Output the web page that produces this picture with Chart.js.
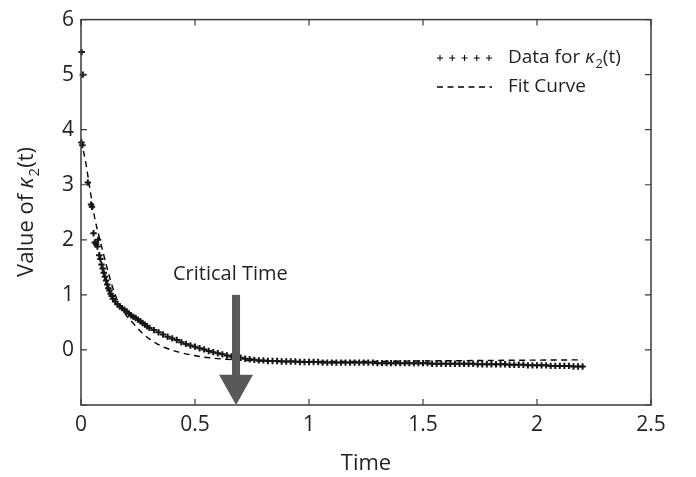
<!DOCTYPE html>
<html>
<head>
<meta charset="utf-8">
<script src="https://cdn.jsdelivr.net/npm/chart.js@4/dist/chart.umd.min.js"></script>
<style>
  html, body { margin:0; padding:0; background:#fff; }
  #wrap { width:696px; height:477px; }
</style>
</head>
<body>
<div id="wrap"><canvas id="c" width="696" height="477"></canvas></div>
<script>
/* ── dados ─────────────────────────────────────────────────── */
const tData = [
  0.003, 0.008, 0.002, 0.006, 0.030, 0.044, 0.048, 0.055, 0.060, 0.066,
  0.072, 0.075, 0.080, 0.085, 0.090, 0.095, 0.100, 0.105, 0.110, 0.115,
  0.120, 0.125, 0.130, 0.135, 0.140, 0.150, 0.160, 0.170, 0.180, 0.190,
  0.200, 0.210, 0.220, 0.230, 0.240, 0.250, 0.260, 0.270, 0.280, 0.290,
  0.300, 0.320, 0.340, 0.360, 0.380, 0.400, 0.420, 0.440, 0.460, 0.480,
  0.500, 0.520, 0.540, 0.560, 0.580, 0.600, 0.620, 0.640, 0.660, 0.680,
  0.700, 0.720, 0.740, 0.760, 0.780, 0.800, 0.820, 0.840, 0.860, 0.880,
  0.900, 0.920, 0.940, 0.960, 0.980, 1.000, 1.020, 1.040, 1.060, 1.080,
  1.100, 1.120, 1.140, 1.160, 1.180, 1.200, 1.220, 1.240, 1.260, 1.280,
  1.300, 1.320, 1.340, 1.360, 1.380, 1.400, 1.420, 1.440, 1.460, 1.480,
  1.500, 1.520, 1.540, 1.560, 1.580, 1.600, 1.620, 1.640, 1.660, 1.680,
  1.700, 1.720, 1.740, 1.760, 1.780, 1.800, 1.820, 1.840, 1.860, 1.880,
  1.900, 1.920, 1.940, 1.960, 1.980, 2.000, 2.020, 2.040, 2.060, 2.080,
  2.100, 2.120, 2.140, 2.160, 2.180, 2.200
];
const kData = [
  5.41, 5.00, 3.77, 3.72, 3.04, 2.64, 2.60, 2.12, 1.95, 1.92,
  1.88, 2.00, 1.72, 1.65, 1.55, 1.48, 1.40, 1.33, 1.26, 1.19,
  1.12, 1.08, 1.02, 0.98, 0.93, 0.88, 0.83, 0.79, 0.76, 0.73,
  0.70, 0.66, 0.63, 0.60, 0.58, 0.55, 0.52, 0.49, 0.46, 0.43,
  0.40, 0.36, 0.32, 0.28, 0.24, 0.21, 0.18, 0.14, 0.11, 0.08,
  0.06, 0.03, 0.01, -0.02, -0.04, -0.06, -0.08, -0.10, -0.12, -0.13,
  -0.14, -0.16, -0.17, -0.18, -0.19, -0.19, -0.20, -0.20, -0.20, -0.21,
  -0.21, -0.21, -0.21, -0.22, -0.22, -0.22, -0.22, -0.22, -0.23, -0.23,
  -0.23, -0.23, -0.23, -0.23, -0.23, -0.23, -0.23, -0.23, -0.23, -0.23,
  -0.24, -0.24, -0.24, -0.24, -0.24, -0.24, -0.24, -0.24, -0.24, -0.24,
  -0.24, -0.24, -0.25, -0.25, -0.25, -0.25, -0.25, -0.25, -0.25, -0.25,
  -0.25, -0.25, -0.26, -0.26, -0.26, -0.26, -0.26, -0.26, -0.26, -0.27,
  -0.27, -0.27, -0.27, -0.28, -0.28, -0.28, -0.28, -0.28, -0.29, -0.29,
  -0.29, -0.29, -0.29, -0.30, -0.30, -0.30
];
const tFit = [0, 0.02, 0.04, 0.06, 0.08, 0.10, 0.12, 0.14, 0.16, 0.18, 0.20, 0.23, 0.27, 0.30, 0.33, 0.37, 0.42, 0.47, 0.52, 0.58, 0.64, 0.72, 0.80, 1.00, 1.20, 1.50, 1.80, 2.20];
const kFit = [3.80, 3.42, 2.90, 2.40, 2.05, 1.72, 1.40, 1.12, 0.90, 0.75, 0.62, 0.48, 0.30, 0.20, 0.12, 0.04, -0.03, -0.08, -0.12, -0.15, -0.17, -0.19, -0.20, -0.21, -0.21, -0.20, -0.19, -0.18];
const xTicks = [0, 0.5, 1, 1.5, 2, 2.5];
const xLabels = ['0', '0.5', '1', '1.5', '2', '2.5'];
const yTicks = [-1, 0, 1, 2, 3, 4, 5, 6];
const yLabels = ['', '0', '1', '2', '3', '4', '5', '6'];
const tCritica = 0.68;

const FONTE = '"Open Sans", "DejaVu Sans", sans-serif';
const TINTA = '#231f20';
const CINZA = '#58595b';

const pts = (xs, ys) => xs.map((x, i) => ({ x, y: ys[i] }));

/* ── plugin: caixa, ticks internos, seta, legenda, título do eixo Y ── */
const extras = {
  id: 'extras',
  afterDraw(chart) {
    const { ctx, chartArea: a, scales: { x, y } } = chart;
    ctx.save();

    // caixa
    ctx.strokeStyle = '#3a3a3a';
    ctx.lineWidth = 1.5;
    ctx.strokeRect(a.left, a.top, a.right - a.left, a.bottom - a.top);

    // ticks para dentro, nos quatro lados
    const L = 6;
    ctx.lineWidth = 1.2;
    ctx.beginPath();
    xTicks.forEach(v => {
      const px = x.getPixelForValue(v);
      ctx.moveTo(px, a.bottom); ctx.lineTo(px, a.bottom - L);
      ctx.moveTo(px, a.top);    ctx.lineTo(px, a.top + L);
    });
    yTicks.forEach(v => {
      const py = y.getPixelForValue(v);
      ctx.moveTo(a.left, py);  ctx.lineTo(a.left + L, py);
      ctx.moveTo(a.right, py); ctx.lineTo(a.right - L, py);
    });
    ctx.stroke();

    // seta do tempo crítico
    const ax = x.getPixelForValue(tCritica);
    const yTop = y.getPixelForValue(1.0);
    const yBase = y.getPixelForValue(-0.45);
    const yTip = a.bottom;
    ctx.fillStyle = CINZA;
    ctx.fillRect(ax - 4, yTop, 8, yBase - yTop + 1);
    ctx.beginPath();
    ctx.moveTo(ax - 17, yBase);
    ctx.lineTo(ax + 17, yBase);
    ctx.lineTo(ax, yTip);
    ctx.closePath();
    ctx.fill();

    ctx.fillStyle = TINTA;
    ctx.font = `20px ${FONTE}`;
    ctx.textAlign = 'center';
    ctx.textBaseline = 'middle';
    ctx.fillText('Critical Time', x.getPixelForValue(0.655), y.getPixelForValue(1.38));

    // legenda
    const lx0 = 440, lx1 = 489, ly1 = 58, ly2 = 87;
    ctx.strokeStyle = '#000';
    ctx.lineWidth = 1;
    ctx.beginPath();
    for (let i = 0; i < 5; i++) {
      const cx = lx0 + i * (lx1 - lx0) / 4;
      ctx.moveTo(cx - 3, ly1); ctx.lineTo(cx + 3, ly1);
      ctx.moveTo(cx, ly1 - 3); ctx.lineTo(cx, ly1 + 3);
    }
    ctx.stroke();
    ctx.setLineDash([6, 4.5]);
    ctx.lineWidth = 1.4;
    ctx.beginPath();
    ctx.moveTo(lx0 - 3, ly2); ctx.lineTo(lx1 + 3, ly2);
    ctx.stroke();
    ctx.setLineDash([]);

    const rich = (parts, px, py) => {
      let cx = px;
      parts.forEach(p => {
        ctx.font = p.f;
        ctx.fillText(p.t, cx, py + (p.dy || 0));
        cx += ctx.measureText(p.t).width + (p.gap || 0);
      });
    };
    ctx.textAlign = 'left';
    ctx.textBaseline = 'middle';
    const kappa = (sz) => [
      { t: 'κ', f: `italic ${sz}px ${FONTE}`, gap: 1 },
      { t: '2', f: `${Math.round(sz * 0.68)}px ${FONTE}`, dy: sz * 0.35 },
      { t: '(t)', f: `${sz}px ${FONTE}` }
    ];
    rich([{ t: 'Data for ', f: `19px ${FONTE}` }, ...kappa(19)], 508, ly1);
    rich([{ t: 'Fit Curve', f: `19px ${FONTE}` }], 508, ly2);

    // título do eixo Y, girado
    ctx.save();
    ctx.translate(27, 212);
    ctx.rotate(-Math.PI / 2);
    const partes = [{ t: 'Value of ', f: `22px ${FONTE}` }, ...kappa(22)];
    let w = 0;
    partes.forEach(p => { ctx.font = p.f; w += ctx.measureText(p.t).width + (p.gap || 0); });
    rich(partes, -w / 2, 0);
    ctx.restore();

    ctx.restore();
  }
};

new Chart(document.getElementById('c'), {
  type: 'scatter',
  data: {
    datasets: [
      {
        label: 'Data for κ2(t)',
        data: pts(tData, kData),
        pointStyle: 'cross',
        pointRadius: 3.2,
        pointBorderWidth: 2,
        borderColor: '#151515',
        backgroundColor: '#151515',
        showLine: false,
        clip: false
      },
      {
        label: 'Fit Curve',
        data: pts(tFit, kFit),
        showLine: true,
        borderColor: '#000',
        borderWidth: 1.4,
        borderDash: [6, 4.5],
        pointRadius: 0,
        cubicInterpolationMode: 'monotone'
      }
    ]
  },
  options: {
    responsive: false,
    animation: false,
    layout: { padding: { top: 14, right: 45, left: 0, bottom: 0 } },
    plugins: { legend: { display: false }, tooltip: { enabled: false } },
    scales: {
      x: {
        type: 'linear', min: 0, max: 2.5,
        afterBuildTicks: s => { s.ticks = xTicks.map(v => ({ value: v })); },
        afterFit: s => { s.height = 72; },
        grid: { display: false, drawTicks: false },
        border: { display: false },
        ticks: { color: TINTA, font: { family: FONTE, size: 21 }, padding: 7, maxRotation: 0,
                 callback: (v, i) => xLabels[i] },
        title: { display: true, text: 'Time', color: TINTA, font: { family: FONTE, size: 22 }, padding: { top: 4, bottom: 0 } }
      },
      y: {
        type: 'linear', min: -1, max: 6,
        afterBuildTicks: s => { s.ticks = yTicks.map(v => ({ value: v })); },
        afterFit: s => { s.width = 81; },
        grid: { display: false, drawTicks: false },
        border: { display: false },
        ticks: { color: TINTA, font: { family: FONTE, size: 21 }, padding: 7, callback: (v, i) => yLabels[i] }
      }
    }
  },
  plugins: [extras]
});
</script>
</body>
</html>
